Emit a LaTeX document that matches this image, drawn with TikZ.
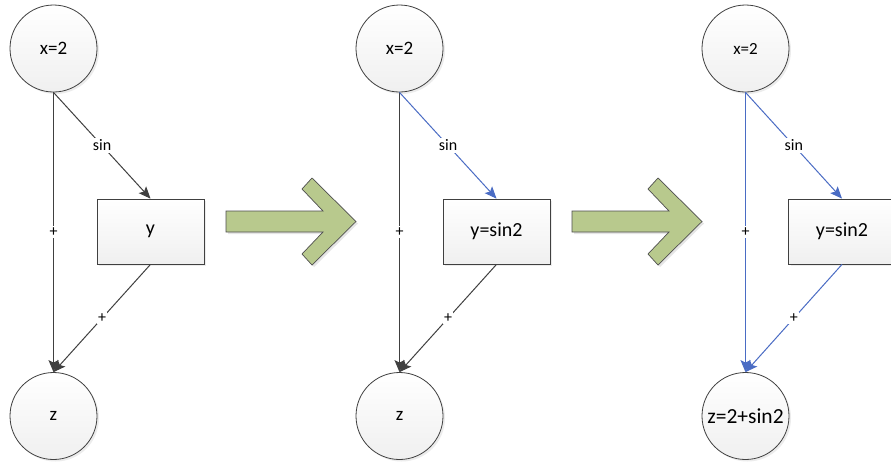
\documentclass[tikz,border=0pt]{standalone}
\usepackage{fontspec}
\setmainfont{Carlito}
\usetikzlibrary{arrows.meta,shadows}
\definecolor{edgegray}{HTML}{404040}
\definecolor{flowblue}{HTML}{4A6CC4}
\definecolor{arrowgreen}{HTML}{B8C98D}
\definecolor{arrowline}{HTML}{4F4F4F}
\tikzset{
  varnode/.style={circle, draw=edgegray, line width=0.8pt, minimum size=87pt, inner sep=0pt,
    top color=white, bottom color=black!6,
    drop shadow={opacity=0.15, shadow xshift=2pt, shadow yshift=-2pt},
    font=\fontsize{19}{21}\selectfont},
  valbox/.style={rectangle, draw=edgegray, line width=0.8pt, minimum width=107pt, minimum height=65pt, inner sep=0pt,
    top color=white, bottom color=black!6,
    drop shadow={opacity=0.15, shadow xshift=2pt, shadow yshift=-2pt},
    font=\fontsize{20}{22}\selectfont},
  link/.style={draw=edgegray, line width=1pt, -{Stealth[length=12pt,width=10pt,inset=2.5pt]}},
  bluelink/.style={link, draw=flowblue, -{Stealth[length=12pt,width=10pt,inset=2.5pt,fill=flowblue]}},
  elabel/.style={fill=white, inner sep=1.5pt, font=\fontsize{16}{18}\selectfont, text=black},
  bigarrow/.style={fill=arrowgreen, draw=arrowline, line width=0.7pt, line join=miter,
    drop shadow={opacity=0.2, shadow xshift=2pt, shadow yshift=-2pt}}
}
\begin{document}
\begin{tikzpicture}[x=1pt, y=-1pt]
\clip (0,0) rectangle (891,464);
\fill[white] (0,0) rectangle (891,464);

% ---- step 1: nothing computed yet ----
\node[varnode] (x1) at (53.5,48.5) {x=2};
\node[varnode] (z1) at (53.5,416) {z};
\node[valbox] (y1) at (150.5,231.5) {y};
\draw[link] (x1.south) -- node[elabel]{+} (z1.north);
\draw[link] (x1.south) -- node[elabel]{sin} (y1.north);
\draw[link] (y1.south) -- node[elabel]{+} (z1.north);

% ---- step 2: y evaluated ----
\node[varnode] (x2) at (399.5,48.5) {x=2};
\node[varnode] (z2) at (399.5,416) {z};
\node[valbox] (y2) at (496.5,231.5) {y=sin2};
\draw[link] (x2.south) -- node[elabel]{+} (z2.north);
\draw[bluelink] (x2.south) -- node[elabel]{sin} (y2.north);
\draw[link] (y2.south) -- node[elabel]{+} (z2.north);

% ---- step 3: z evaluated ----
\node[varnode, font=\fontsize{17}{19}\selectfont] (x3) at (745.5,48.5) {x=2};
\node[varnode, font=\fontsize{21.5}{23}\selectfont] (z3) at (745.5,416) {z=2+sin2};
\node[valbox] (y3) at (842,231.5) {y=sin2};
\draw[bluelink] (x3.south) -- node[elabel]{+} (z3.north);
\draw[bluelink] (x3.south) -- node[elabel]{sin} (y3.north);
\draw[bluelink] (y3.south) -- node[elabel]{+} (z3.north);

% ---- transition arrows ----
\foreach \dx in {0,346} {
  \begin{scope}[xshift=\dx pt]
    \path[bigarrow] (226,211) -- (323,211) -- (302,189) -- (312,178) -- (356,221.5)
      -- (312,265) -- (302,254) -- (323,232) -- (226,232) -- cycle;
  \end{scope}
}
\end{tikzpicture}
\end{document}
